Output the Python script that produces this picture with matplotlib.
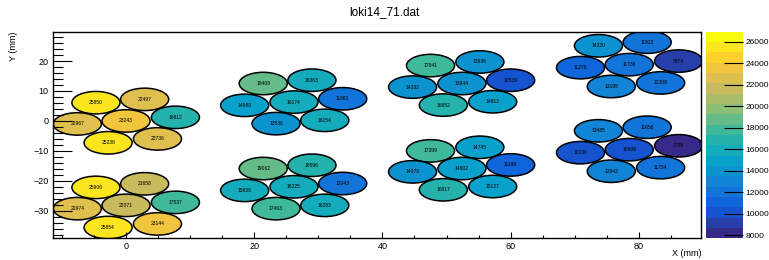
import numpy as np
import matplotlib
matplotlib.use('Agg')
import matplotlib.pyplot as plt
from matplotlib.patches import Ellipse
from matplotlib.colors import LinearSegmentedColormap, BoundaryNorm
from matplotlib.ticker import MultipleLocator
import matplotlib.colorbar as mcolorbar

plt.rcParams['font.family'] = ['Liberation Sans', 'DejaVu Sans']

title = 'loki14_71.dat'

# tube centres (mm) and counts
tube_x = [-4.7, 2.9, -7.6, 0.0, 7.7, -2.8, 4.9,
          -4.7, 2.9, -7.6, 0.0, 7.7, -2.8, 4.9,
          21.4, 29.0, 18.5, 26.2, 33.8, 23.4, 31.0,
          21.4, 29.0, 18.5, 26.2, 33.8, 23.4, 31.0,
          47.5, 55.2, 44.7, 52.4, 60.0, 49.5, 57.2,
          47.5, 55.2, 44.7, 52.4, 60.0, 49.5, 57.2,
          73.7, 81.3, 70.9, 78.5, 86.2, 75.7, 83.4,
          73.7, 81.3, 70.9, 78.5, 86.2, 75.7, 83.4]
tube_y = [6.1, 7.2, -1.0, 0.0, 1.2, -7.3, -6.0,
          -22.2, -21.0, -29.3, -28.2, -27.2, -35.6, -34.4,
          12.5, 13.6, 5.2, 6.3, 7.4, -0.9, 0.2,
          -15.9, -14.8, -23.2, -22.0, -20.9, -29.3, -28.2,
          18.5, 19.7, 11.3, 12.5, 13.6, 5.3, 6.4,
          -10.0, -8.8, -17.0, -15.9, -14.7, -23.0, -21.9,
          25.1, 26.3, 17.8, 18.8, 20.0, 11.5, 12.7,
          -3.3, -2.1, -10.6, -9.6, -8.3, -16.8, -15.6]
counts = [25850, 22497, 22967, 23243, 16812, 25238, 22736,
          25906, 21658, 22974, 22071, 17537, 25854, 23144,
          18408, 16363, 14989, 16174, 11881, 13536, 16154,
          19062, 16596, 15839, 16225, 12043, 17463, 16283,
          17841, 13936, 14282, 13944, 10539, 16652, 14812,
          17399, 14745, 14079, 14602, 11199, 16817, 15127,
          14320, 11822, 11276, 11736, 8974, 13195, 12208,
          13485, 11658, 10136, 10606, 7739, 12842, 11754]
tube_d = 7.5
z_min, z_max = 7739, 26930
cbar_ticks = list(range(8000, 26001, 2000))

# ROOT kBird palette
stops = [0.0, 0.125, 0.25, 0.375, 0.5, 0.625, 0.75, 0.875, 1.0]
red = [0.2082, 0.0592, 0.0780, 0.0232, 0.1802, 0.5301, 0.8186, 0.9956, 0.9764]
green = [0.1664, 0.3599, 0.5041, 0.6419, 0.7178, 0.7492, 0.7328, 0.7862, 0.9832]
blue = [0.5293, 0.8684, 0.8385, 0.7914, 0.6425, 0.4662, 0.3499, 0.1968, 0.0539]
bird = LinearSegmentedColormap.from_list('bird', list(zip(stops, zip(red, green, blue))))
levels = np.linspace(z_min, z_max, 21)
norm = BoundaryNorm(levels, bird.N)

fig = plt.figure(figsize=(7.69, 2.6), dpi=100)
ax = fig.add_axes([0.0689, 0.0835, 0.8427, 0.7945])
cax = fig.add_axes([0.918, 0.0835, 0.0478, 0.7945])

for x, y, c in zip(tube_x, tube_y, counts):
    ax.add_patch(Ellipse((x, y), tube_d, tube_d, facecolor=bird(norm(c)),
                         edgecolor='black', lw=1.1))
    ax.text(x, y, str(c), ha='center', va='center', fontsize=3.6, color='black')

ax.set_xlim(-11.4, 89.7)
ax.set_ylim(-39.2, 29.8)
ax.xaxis.set_major_locator(MultipleLocator(20))
ax.xaxis.set_minor_locator(MultipleLocator(5))
ax.yaxis.set_major_locator(MultipleLocator(10))
ax.yaxis.set_minor_locator(MultipleLocator(2))
ax.tick_params(axis='x', which='major', direction='in', length=4, width=0.8, labelsize=6.5, pad=3)
ax.tick_params(axis='x', which='minor', direction='in', length=2.2, width=0.8)
ax.tick_params(axis='y', which='major', direction='in', length=13.5, width=0.8, labelsize=6.5, pad=3)
ax.tick_params(axis='y', which='minor', direction='in', length=7, width=0.8)
for s in ax.spines.values():
    s.set_linewidth(1.0)
ax.text(1.0, -0.072, 'X (mm)', transform=ax.transAxes, ha='right', va='center', fontsize=6.5)
ax.set_ylabel('Y (mm)', loc='top', fontsize=6.5, labelpad=11)

cb = mcolorbar.ColorbarBase(cax, cmap=bird, norm=norm, boundaries=levels,
                            orientation='vertical', ticks=cbar_ticks)
cb.outline.set_visible(False)
cax.yaxis.set_ticks_position('right')
cax.tick_params(axis='y', direction='in', length=13.5, width=0.8, labelsize=6, pad=2)
cax.minorticks_off()
cb.set_ticklabels([str(t) for t in cbar_ticks])

fig.text(0.5, 0.955, title, ha='center', va='center', fontsize=8.5)

fig.savefig('out.png', dpi=100)
